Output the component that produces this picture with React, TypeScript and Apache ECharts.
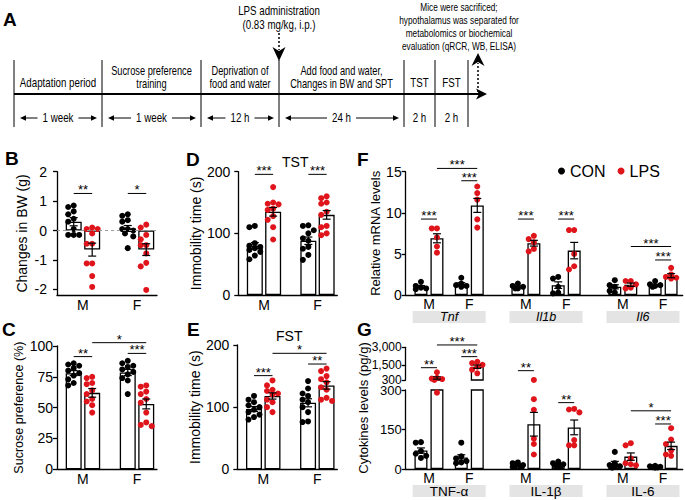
import React, { useEffect, useRef } from 'react';
import * as echarts from 'echarts';

const FONT = "'Liberation Sans', Arial, Helvetica, sans-serif";
const RED = '#e0141b';
const INK = '#000000';

// ---------- Panel A: timeline ----------
const stageBounds = [14, 102, 201, 279, 404, 435, 468];
const stageLabels = [
  ['Adaptation period'],
  ['Sucrose preference', 'training'],
  ['Deprivation of', 'food and water'],
  ['Add food and water,', 'Changes in BW and SPT'],
  ['TST'],
  ['FST'],
];
const stageDurations = ['1 week', '1 week', '12 h', '24 h', '2 h', '2 h'];
const lpsNote = ['LPS administration', '(0.83 mg/kg, i.p.)'];
const endNote = ['Mice were sacrificed;', 'hypothalamus was separated for', 'metabolomics or biochemical', 'evaluation (qRCR, WB, ELISA)'];

// ---------- shared categories ----------
const sexes = ['M', 'F'];
const groups = ['CON', 'LPS'];
const genes = ['Tnf', 'Il1b', 'Il6'];
const cytokines = ['TNF-α', 'IL-1β', 'IL-6'];

// ---------- B: Changes in BW ----------
const bwMean = [0.3, -0.65, 0.07, -0.65];
const bwSem = [0.14, 0.22, 0.1, 0.2];
const bwConM = [0.85, 0.8, 0.65, 0.55, 0.4, 0.3, 0.05, -0.15, -0.15, -0.15];
const bwLpsM = [0.1, 0.05, 0.05, -0.1, -0.45, -0.45, -1.12, -1.12, -1.55, -1.92];
const bwConF = [0.55, 0.5, 0.35, 0.3, 0.05, 0.05, 0.0, -0.1, -0.2, -0.6];
const bwLpsF = [0.2, 0.1, -0.15, -0.3, -0.5, -0.5, -0.78, -1.1, -1.22, -2.02];
const bwTicks = [-2, -1, 0, 1, 2];
const bwSig = [[0, 1, 1.26, 2], [2, 3, 1.26, 1]];

// ---------- C: Sucrose preference ----------
const spMean = [78, 62, 78.5, 53];
const spSem = [2, 3.5, 2.5, 4];
const spConM = [86, 85, 84, 82, 80, 78, 76, 73, 70, 68];
const spLpsM = [75, 74, 70, 69, 64, 61, 57, 55, 52, 46];
const spConF = [88, 86, 84, 83, 81, 79, 77, 74, 72, 61];
const spLpsF = [68, 67, 63, 61, 57, 54, 46, 38, 36, 35];
const spSig = [[0, 1, 91.4, 2], [1, 3, 102.7, 1], [2, 3, 94, 3]];

// ---------- D: TST ----------
const tstMean = [80, 135, 88, 130];
const tstSem = [5, 7, 6, 7];
const tstConM = [112, 110, 84, 80, 78, 76, 73, 70, 64, 58];
const tstLpsM = [175, 150, 148, 147, 140, 138, 128, 122, 110, 90];
const tstConF = [113, 112, 105, 100, 92, 88, 78, 75, 65, 57];
const tstLpsF = [160, 157, 150, 148, 135, 130, 112, 110, 100, 97];
const tstSig = [[0, 1, 195.7, 3], [2, 3, 195.7, 3]];

// ---------- E: FST ----------
const fstMean = [97, 118, 107, 135];
const fstSem = [4, 5, 6.5, 6];
const fstConM = [118, 112, 108, 103, 100, 96, 92, 88, 84, 80];
const fstLpsM = [143, 135, 128, 126, 122, 120, 112, 108, 100, 92];
const fstConF = [142, 130, 122, 118, 112, 108, 100, 92, 77, 76];
const fstLpsF = [162, 158, 150, 145, 140, 132, 128, 115, 112, 110];
const fstSig = [[0, 1, 150.7, 3], [1, 3, 186.6, 1], [2, 3, 169.4, 2]];

// ---------- F: relative mRNA ----------
const mrnaMean = [[1.0, 6.9, 1.3, 10.9], [1.0, 6.3, 1.2, 5.4], [1.0, 1.25, 1.2, 2.35]];
const mrnaSem = [[0.15, 0.55, 0.2, 0.85], [0.12, 0.35, 0.4, 1.0], [0.25, 0.2, 0.1, 0.25]];
const mrnaTnf = [[1.6, 1.1, 0.9, 0.8, 0.7], [8.1, 8.1, 7.0, 5.9, 5.15], [2.1, 1.4, 1.2, 1.1, 1.0], [13.2, 12.4, 11.6, 9.2, 8.2]];
const mrnaIl1b = [[1.4, 1.1, 1.0, 0.8, 0.8], [7.2, 6.8, 6.4, 5.6, 5.3], [2.2, 2.0, 1.0, 0.3, 0.2], [7.9, 7.9, 5.0, 3.5, 3.1]];
const mrnaIl6 = [[1.8, 1.2, 1.0, 0.5, 0.3], [1.7, 1.7, 1.3, 0.9, 0.8], [1.7, 1.3, 1.2, 1.1, 1.0], [3.3, 2.5, 2.2, 2.1, 2.0]];
const mrnaSig = [[0, 0, 1, 9.24, 3], [0, 1, 3, 15.4, 3], [0, 2, 3, 13.9, 3], [1, 0, 1, 9.24, 3], [1, 2, 3, 9.24, 3], [2, 1, 3, 5.9, 3], [2, 2, 3, 4.26, 3]];

// ---------- G: cytokines (broken axis) ----------
const cytMean = [[70, 470, 44, 1400], [15, 170, 17, 158], [20, 47, 8, 88]];
const cytSem = [[10, 100, 10, 140], [3, 45, 3, 28], [9, 14, 1.5, 14]];
const cytTnf = [[102, 100, 68, 58, 50, 42], [940, 480, 420, 380, 310, 290], [100, 48, 40, 30, 25, 22], [1800, 1700, 1550, 1400, 1150, 850]];
const cytIl1b = [[25, 22, 15, 12, 10, 8], [305, 265, 225, 115, 95, 55], [28, 22, 18, 15, 12, 10], [228, 226, 215, 110, 90, 90]];
const cytIl6 = [[65, 22, 15, 10, 8, 5], [98, 90, 40, 22, 18, 14], [12, 10, 8, 7, 6, 5], [155, 112, 95, 70, 55, 50]];
const cytTopTicks = [300, 1500, 3000];
const cytSigTop = [[0, 0, 1, 1316, 2], [0, 1, 3, 3193, 3], [0, 2, 3, 2228, 3], [1, 0, 1, 1071, 2]];
const cytSigBottom = [[1, 2, 3, 252, 2], [2, 1, 3, 221, 1], [2, 2, 3, 171, 3]];

// ---------- layout ----------
const BE = { min: -0.48, max: 1.37, w: 100 };
const FG = { min: -0.448, max: 2.41, w: 277 };
const pxPerBE = BE.w / (BE.max - BE.min);
const pxPerFG = FG.w / (FG.max - FG.min);
const posBE = (i: number) => Math.floor(i / 2) + (i % 2 ? 0.171 : -0.171);
const posFG = (g: number, i: number) => g + (i < 2 ? -0.208 : 0.208) + (i % 2 ? 0.0825 : -0.0825);
const DOT = 6;
const TICK_FS = 14;

function swarm(vals: number[], toPx: (v: number) => number, d: number): number[] {
  const placed: { x: number; y: number }[] = [];
  const out = vals.map(() => 0);
  const order = vals.map((_, i) => i).sort((a, b) => vals[b] - vals[a]);
  const cands = [0, -d, d, -d / 2, d / 2];
  for (const i of order) {
    const y = toPx(vals[i]);
    let bestX = 0;
    let bestScore = -Infinity;
    for (const c of cands) {
      let minDist = Infinity;
      for (const p of placed) minDist = Math.min(minDist, Math.hypot(p.x - c, p.y - y));
      if (minDist >= d) { bestX = c; break; }
      if (minDist > bestScore) { bestScore = minDist; bestX = c; }
    }
    placed.push({ x: bestX, y });
    out[i] = bestX;
  }
  return out;
}

const errRender = (params: any, api: any) => {
  const x = api.value(0), m = api.value(1), s = api.value(2);
  const t = api.coord([x, m + s]);
  const b = api.coord([x, m - s]);
  const w = 4;
  const st = { stroke: INK, lineWidth: 1.2 };
  return {
    type: 'group',
    children: [
      { type: 'line', shape: { x1: t[0], y1: t[1], x2: b[0], y2: b[1] }, style: st },
      { type: 'line', shape: { x1: t[0] - w, y1: t[1], x2: t[0] + w, y2: t[1] }, style: st },
      { type: 'line', shape: { x1: b[0] - w, y1: b[1], x2: b[0] + w, y2: b[1] }, style: st },
    ],
  };
};

const sigRender = (params: any, api: any) => {
  const a = api.coord([api.value(0), api.value(2)]);
  const b = api.coord([api.value(1), api.value(2)]);
  const n = api.value(3);
  return {
    type: 'group',
    children: [
      { type: 'line', shape: { x1: a[0], y1: a[1], x2: b[0], y2: b[1] }, style: { stroke: INK, lineWidth: 1 } },
      { type: 'text', x: (a[0] + b[0]) / 2, y: a[1] - 3.5, style: { text: '*'.repeat(n), textAlign: 'center', textVerticalAlign: 'middle', lineHeight: 8, fontSize: 13, fill: INK, fontFamily: FONT } },
    ],
  };
};

function simplePanel(ax: number, mean: number[], sem: number[], dots: number[][], sig: number[][], pxPerY: number, zeroLine = false) {
  const series: any[] = [];
  series.push({
    type: 'bar', xAxisIndex: ax, yAxisIndex: ax, barWidth: 16, clip: true, silent: true, z: 2,
    itemStyle: { color: '#ffffff', borderColor: INK, borderWidth: 1.3 },
    data: mean.map((m, i) => [posBE(i), m]),
    markLine: zeroLine ? { silent: true, symbol: 'none', label: { show: false }, lineStyle: { type: [3, 3], color: '#9a9a9a', width: 1 }, data: [{ yAxis: 0 }] } : undefined,
  });
  [0, 1].forEach((gi) => {
    const data: number[][] = [];
    dots.forEach((vals, i) => {
      if (i % 2 !== gi) return;
      const off = swarm(vals, (v) => v * pxPerY, DOT - 0.5);
      vals.forEach((v, k) => data.push([posBE(i) + off[k] / pxPerBE, v]));
    });
    series.push({ type: 'scatter', name: groups[gi], xAxisIndex: ax, yAxisIndex: ax, symbolSize: DOT, silent: true, z: 3, itemStyle: { color: gi ? RED : INK, opacity: 1 }, data });
  });
  series.push({
    type: 'custom', xAxisIndex: ax, yAxisIndex: ax, silent: true, z: 4, renderItem: errRender,
    dimensions: ['x', 'm', 's'], encode: { x: 0, y: 1 },
    data: mean.map((m, i) => [posBE(i), m, sem[i]]),
  });
  series.push({
    type: 'custom', xAxisIndex: ax, yAxisIndex: ax, silent: true, z: 4, renderItem: sigRender, clip: false,
    dimensions: ['x1', 'x2', 'y', 'n'], encode: { x: [0, 1], y: 2 },
    data: sig.map((s) => [posBE(s[0]), posBE(s[1]), s[2], s[3]]),
  });
  return series;
}

function groupedPanel(xa: number, ya: number, mean: number[][], sem: number[][], dots: number[][][], toPx: (v: number) => number, clipErr: boolean) {
  const series: any[] = [];
  const barData: number[][] = [];
  mean.forEach((row, g) => row.forEach((m, i) => barData.push([posFG(g, i), m])));
  series.push({
    type: 'bar', xAxisIndex: xa, yAxisIndex: ya, barWidth: 13, clip: true, silent: true, z: 2,
    itemStyle: { color: '#ffffff', borderColor: INK, borderWidth: 1.3 }, data: barData,
  });
  [0, 1].forEach((gi) => {
    const data: number[][] = [];
    dots.forEach((gene, g) => gene.forEach((vals, i) => {
      if (i % 2 !== gi) return;
      const off = swarm(vals, toPx, DOT - 0.8);
      vals.forEach((v, k) => data.push([posFG(g, i) + off[k] / pxPerFG, v]));
    }));
    series.push({ type: 'scatter', name: groups[gi], xAxisIndex: xa, yAxisIndex: ya, symbolSize: DOT, clip: true, silent: true, z: 3, itemStyle: { color: gi ? RED : INK, opacity: 1 }, data });
  });
  const errData: number[][] = [];
  mean.forEach((row, g) => row.forEach((m, i) => errData.push([posFG(g, i), m, sem[g][i]])));
  series.push({
    type: 'custom', xAxisIndex: xa, yAxisIndex: ya, silent: true, z: 4, renderItem: errRender, clip: clipErr,
    dimensions: ['x', 'm', 's'], encode: { x: 0, y: 1 }, data: errData,
  });
  return series;
}

function sigSeries(xa: number, ya: number, sig: number[][]) {
  return {
    type: 'custom', xAxisIndex: xa, yAxisIndex: ya, silent: true, z: 4, renderItem: sigRender, clip: false,
    dimensions: ['x1', 'x2', 'y', 'n'], encode: { x: [0, 1], y: 2 },
    data: sig.map((s) => [posFG(s[0], s[1]), posFG(s[0], s[2]), s[3], s[4]]),
  };
}

function timelineGraphics() {
  const els: any[] = [];
  const ctx = document.createElement('canvas').getContext('2d') as CanvasRenderingContext2D;
  ctx.font = `12px ${FONT}`;
  const SX = 0.78;
  const T = (text: string, x: number, y: number, fs = 12, sx = SX) => ({
    type: 'text', x, y, scaleX: sx, silent: true,
    style: { text, textAlign: 'center', textVerticalAlign: 'middle', fontSize: fs, fontFamily: FONT, fill: INK },
  });
  stageBounds.forEach((x) => els.push({ type: 'line', silent: true, shape: { x1: x, y1: 60, x2: x, y2: 127 }, style: { stroke: INK, lineWidth: 1 } }));
  els.push({ type: 'line', silent: true, shape: { x1: 14, y1: 94, x2: 480, y2: 94 }, style: { stroke: INK, lineWidth: 2.2 } });
  els.push({ type: 'polygon', silent: true, shape: { points: [[476, 88.5], [487, 94], [476, 99.5], [479, 94]] }, style: { fill: INK } });
  stageLabels.forEach((lines, i) => {
    const c = (stageBounds[i] + stageBounds[i + 1]) / 2;
    if (lines.length === 1) els.push(T(lines[0], c, 83, 12.5));
    else lines.forEach((l, k) => els.push(T(l, c, 70.5 + k * 13, 12.5, 0.74)));
  });
  stageDurations.forEach((d, i) => {
    const x0 = stageBounds[i], x1 = stageBounds[i + 1];
    const c = (x0 + x1) / 2;
    els.push(T(d, c, 118, 12.5));
    if (x1 - x0 > 60) {
      const half = (ctx.measureText(d).width * SX * 12.5 / 12) / 2;
      const li = c - half - 5, lo = x0 + 6, ri = c + half + 5, ro = x1 - 5;
      els.push({ type: 'line', silent: true, shape: { x1: li, y1: 118, x2: lo + 3, y2: 118 }, style: { stroke: INK, lineWidth: 1 } });
      els.push({ type: 'polygon', silent: true, shape: { points: [[lo, 118], [lo + 6, 115.3], [lo + 6, 120.7]] }, style: { fill: INK } });
      els.push({ type: 'line', silent: true, shape: { x1: ri, y1: 118, x2: ro - 3, y2: 118 }, style: { stroke: INK, lineWidth: 1 } });
      els.push({ type: 'polygon', silent: true, shape: { points: [[ro, 118], [ro - 6, 115.3], [ro - 6, 120.7]] }, style: { fill: INK } });
    }
  });
  lpsNote.forEach((l, k) => els.push(T(l, 279, 10.5 + k * 14, 12.5)));
  els.push({ type: 'line', silent: true, shape: { x1: 279, y1: 33, x2: 279, y2: 50 }, style: { stroke: INK, lineWidth: 1.5, lineDash: [2, 2] } });
  els.push({ type: 'polygon', silent: true, shape: { points: [[272.5, 47], [279, 61], [285.5, 47], [279, 51]] }, style: { fill: INK } });
  endNote.forEach((l, k) => els.push(T(l, 459, 6.5 + k * 13.3, 11.5, 0.72)));
  els.push({ type: 'line', silent: true, shape: { x1: 478, y1: 92, x2: 478, y2: 63 }, style: { stroke: INK, lineWidth: 1.5, lineDash: [2, 2] } });
  els.push({ type: 'polygon', silent: true, shape: { points: [[471.5, 66], [478, 53], [484.5, 66], [478, 62]] }, style: { fill: INK } });
  return els;
}

const letters: [string, number, number][] = [
  ['A', 3, 10], ['B', 5, 149], ['C', 2, 320], ['D', 186, 150], ['E', 187, 320], ['F', 357, 150], ['G', 357, 320],
];

export default function App() {
  const ref = useRef<HTMLDivElement>(null);
  useEffect(() => {
    if (!ref.current) return;
    const chart = echarts.init(ref.current, undefined, { renderer: 'svg' });

    const axisLine = { show: true, onZero: false, lineStyle: { color: INK, width: 1.3 } };
    const yBase = (gridIndex: number, extra: any, margin: number) => ({
      type: 'value', gridIndex, axisLine, splitLine: { show: false },
      axisTick: { show: true, length: 4, lineStyle: { color: INK, width: 1.3 }, ...(extra.tickValues ? { customValues: extra.tickValues } : {}) },
      axisLabel: {
        color: INK, fontSize: extra.labelSize || TICK_FS, margin, fontFamily: FONT,
        ...(extra.labelLH ? { lineHeight: extra.labelLH } : {}),
        ...(extra.tickValues ? { customValues: extra.tickValues } : {}),
        ...(extra.formatter ? { formatter: extra.formatter } : {}),
      },
      nameLocation: 'middle', nameRotate: 90,
      nameTextStyle: { color: INK, fontSize: extra.nameSize || 14, fontFamily: FONT },
      min: extra.min, max: extra.max, interval: extra.interval, name: extra.name, nameGap: extra.nameGap,
    });
    const xBE = (gridIndex: number) => ({
      type: 'value', gridIndex, min: BE.min, max: BE.max, axisLine, axisTick: { show: false }, splitLine: { show: false },
      axisLabel: { customValues: [0, 1], formatter: (v: number) => sexes[Math.round(v)], color: INK, fontSize: TICK_FS, margin: 3, fontFamily: FONT },
    });
    const sexValues: number[] = [];
    [0, 1, 2].forEach((g) => { sexValues.push(g - 0.208, g + 0.208); });
    const xFG = (gridIndex: number, show = true) => ({
      type: 'value', gridIndex, min: FG.min, max: FG.max, show, axisLine, axisTick: { show: false }, splitLine: { show: false },
      axisLabel: { customValues: sexValues, formatter: (v: number) => (v - Math.round(v) < 0 ? sexes[0] : sexes[1]), color: INK, fontSize: TICK_FS, margin: 2, fontFamily: FONT },
    });
    const xBoxes = (gridIndex: number, names: string[], italic: boolean) => ({
      type: 'value', gridIndex, min: FG.min, max: FG.max, position: 'bottom', offset: 8,
      axisLine: { show: false }, axisTick: { show: false }, splitLine: { show: false },
      axisLabel: {
        customValues: [0, 1, 2], formatter: (v: number) => names[Math.round(v)], margin: 8,
        backgroundColor: '#e4e4e4', width: 73, height: 12, lineHeight: 12, align: 'center',
        color: INK, fontSize: italic ? 12.5 : 13.5, fontStyle: italic ? 'italic' : 'normal', fontFamily: FONT,
      },
    });

    const pyG = (v: number) => (v <= 300 ? (v * 79) / 300 : 89 + ((v - 300) * 32.7) / 2700);

    const series: any[] = [
      ...simplePanel(0, bwMean, bwSem, [bwConM, bwLpsM, bwConF, bwLpsF], bwSig, 123.5 / 4.2, true),
      ...simplePanel(1, spMean, spSem, [spConM, spLpsM, spConF, spLpsF], spSig, 123.3 / 100),
      ...simplePanel(2, tstMean, tstSem, [tstConM, tstLpsM, tstConF, tstLpsF], tstSig, 123.3 / 200),
      ...simplePanel(3, fstMean, fstSem, [fstConM, fstLpsM, fstConF, fstLpsF], fstSig, 124.3 / 200),
      ...groupedPanel(4, 4, mrnaMean, mrnaSem, [mrnaTnf, mrnaIl1b, mrnaIl6], (v) => (v * 123.3) / 15, false),
      sigSeries(4, 4, mrnaSig),
      ...groupedPanel(6, 5, cytMean, cytSem, [cytTnf, cytIl1b, cytIl6], pyG, true),
      ...groupedPanel(7, 6, cytMean, cytSem, [cytTnf, cytIl1b, cytIl6], pyG, true),
      sigSeries(6, 5, cytSigTop),
      sigSeries(7, 6, cytSigBottom),
    ];

    const graphics: any[] = [
      ...timelineGraphics(),
      ...letters.map(([t, x, y]) => ({ type: 'text', x, y, silent: true, style: { text: t, fontSize: 19, fontWeight: 'bold', fontFamily: FONT, fill: INK, textVerticalAlign: 'top' } })),
      { type: 'text', x: 363, y: 408, rotation: Math.PI / 2, silent: true, style: { text: 'Cytokines levels (pg/g)', textAlign: 'center', textVerticalAlign: 'middle', fontSize: 13, fontFamily: FONT, fill: INK } },
    ];

    const gridBase = { containLabel: false, outerBoundsMode: 'none' };
    const option: any = {
      animation: false,
      textStyle: { fontFamily: FONT },
      title: [
        { text: 'TST', left: 282, top: 155, padding: 0, textStyle: { fontSize: 14, lineHeight: 14, fontWeight: 'normal', color: INK, fontFamily: FONT } },
        { text: 'FST', left: 276, top: 328.5, padding: 0, textStyle: { fontSize: 14, lineHeight: 14, fontWeight: 'normal', color: INK, fontFamily: FONT } },
      ],
      legend: {
        data: groups, left: 558, top: 163, icon: 'circle', itemWidth: 7, itemHeight: 7, itemGap: 12, padding: 0,
        selectedMode: false, textStyle: { fontSize: 16, color: INK, fontFamily: FONT },
      },
      grid: [
        { ...gridBase, left: 57, top: 171.7, width: 100, height: 123.5 },
        { ...gridBase, left: 57, top: 346, width: 100, height: 123.3 },
        { ...gridBase, left: 238.3, top: 171.7, width: 99, height: 123.3 },
        { ...gridBase, left: 237.3, top: 345, width: 100, height: 124.3 },
        { ...gridBase, left: 405.7, top: 171.7, width: 277, height: 123.3 },
        { ...gridBase, left: 405.7, top: 347.3, width: 277, height: 32.7 },
        { ...gridBase, left: 405.7, top: 390, width: 277, height: 79 },
      ],
      xAxis: [
        xBE(0), xBE(1), xBE(2), xBE(3),
        xFG(4), xBoxes(4, genes, true),
        xFG(5, false), xFG(6), xBoxes(6, cytokines, false),
      ],
      yAxis: [
        yBase(0, { min: -2.2, max: 2, tickValues: bwTicks, name: 'Changes in BW (g)', nameGap: 28, nameSize: 14 }, 10),
        yBase(1, { min: 0, max: 100, interval: 25, name: 'Sucrose preference (%)', nameGap: 29, nameSize: 12.5 }, 4),
        yBase(2, { min: 0, max: 200, interval: 100, name: 'Immobility time (s)', nameGap: 32, nameSize: 14 }, 8),
        yBase(3, { min: 0, max: 200, interval: 100, name: 'Immobility time (s)', nameGap: 30, nameSize: 14 }, 8),
        yBase(4, { min: 0, max: 15, interval: 5, name: 'Relative mRNA levels', nameGap: 19, nameSize: 13 }, 4),
        yBase(5, { min: 300, max: 3000, tickValues: cytTopTicks, formatter: (v: number) => v.toLocaleString('en-US'), labelSize: 12, labelLH: 9 }, 4),
        yBase(6, { min: 0, max: 300, interval: 150, labelSize: 13, labelLH: 9 }, 4),
      ],
      series,
      graphic: { elements: graphics },
    };
    chart.setOption(option);
    return () => chart.dispose();
  }, []);
  return <div ref={ref} style={{ position: 'absolute', left: 0, top: 0, width: 685, height: 500 }} />;
}
